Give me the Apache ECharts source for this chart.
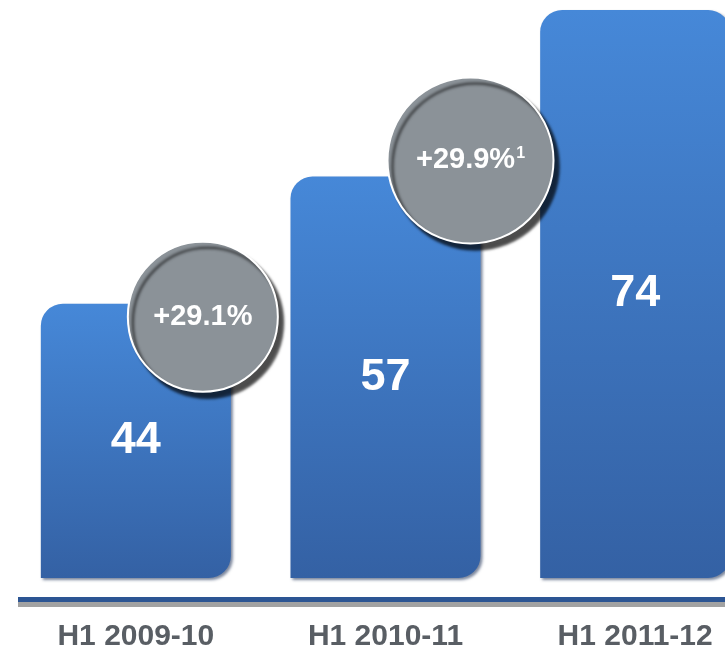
<!DOCTYPE html>
<html lang="en">

<head>
    <meta charset="UTF-8">
    <title>H1 revenue</title>
    <style>
        html, body { margin: 0; padding: 0; background: #fff; }
        #main { width: 725px; height: 650px; }
    </style>
    <script src="https://cdn.jsdelivr.net/npm/echarts@6/dist/echarts.min.js"></script>
</head>

<body>
    <div id="main"></div>

    <script>
        // data
        var categories = ['H1 2009-10', 'H1 2010-11', 'H1 2011-12'];
        var values = [44, 57, 74];
        // growth bubbles, sitting on the top-right corner of bar 1 and bar 2
        var growthLabels = ['+29.1%', '+29.9%'];
        var growthNotes = ['', '1'];

        var chart = echarts.init(document.getElementById('main'));

        var barColor = new echarts.graphic.LinearGradient(0, 0, 0, 1, [
            { offset: 0, color: '#4688d8' },
            { offset: 1, color: '#3461a4' }
        ]);

        var bubbleSizes = [150, 166];
        var bubbleOffsets = [[67, 13], [85, -16]];

        var markData = growthLabels.map(function (g, i) {
            return {
                coord: [categories[i], values[i]],
                value: g,
                symbolSize: bubbleSizes[i],
                symbolOffset: bubbleOffsets[i],
                label: {
                    formatter: '{a|' + g + '}' + (growthNotes[i] ? '{s|' + growthNotes[i] + '}' : '')
                }
            };
        });

        var font = 'Liberation Sans, Arial, sans-serif';

        var option = {
            animation: false,
            grid: { left: 11, right: -35, top: 10, bottom: 72, outerBoundsMode: 'none', containLabel: false },
            xAxis: {
                type: 'category',
                data: categories,
                axisLine: { show: false },
                axisTick: { show: false },
                axisLabel: {
                    margin: 44,
                    color: '#595e64',
                    fontFamily: font,
                    fontWeight: 'bold',
                    fontSize: 30,
                    interval: 0
                }
            },
            yAxis: {
                type: 'value',
                min: 16,
                max: 74,
                show: false,
                splitLine: { show: false }
            },
            series: [{
                type: 'bar',
                data: values,
                barWidth: 190,
                itemStyle: {
                    color: barColor,
                    borderRadius: [22, 22, 22, 0],
                    shadowColor: 'rgba(15, 35, 75, 0.55)',
                    shadowBlur: 3,
                    shadowOffsetX: 2,
                    shadowOffsetY: 2
                },
                label: {
                    show: true,
                    position: 'inside',
                    color: '#fff',
                    fontFamily: font,
                    fontWeight: 'bold',
                    fontSize: 45
                },
                markPoint: {
                    symbol: 'circle',
                    itemStyle: {
                        color: '#8b9298',
                        borderColor: '#fff',
                        borderWidth: 2,
                        shadowColor: 'rgba(0, 0, 0, 0.7)',
                        shadowBlur: 3,
                        shadowOffsetX: 5,
                        shadowOffsetY: 6
                    },
                    label: {
                        show: true,
                        position: 'inside',
                        color: '#fff',
                        rich: {
                            a: { fontFamily: font, fontWeight: 'bold', fontSize: 29, color: '#fff' },
                            s: { fontFamily: font, fontWeight: 'bold', fontSize: 16, color: '#fff', verticalAlign: 'top', padding: [0, 0, 10, 1] }
                        }
                    },
                    data: markData
                }
            }],
            // double baseline: blue line over a grey dotted strip
            graphic: [
                { type: 'rect', left: 18, top: 597, shape: { width: 707, height: 5 }, style: { fill: '#2c5593' } },
                { type: 'rect', left: 18, top: 602, shape: { width: 707, height: 5 }, style: { fill: '#a2a2a2' } }
            ]
        };

        chart.setOption(option);
    </script>
</body>

</html>
